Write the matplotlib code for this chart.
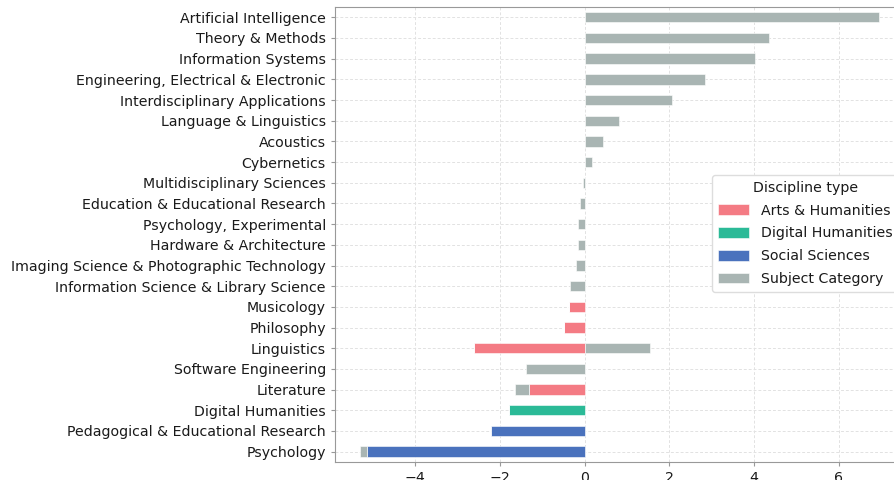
import matplotlib
matplotlib.use("Agg")
import matplotlib.pyplot as plt
import pandas as pd

# categories top to bottom, as in the chart
categories = [
    "Artificial Intelligence", "Theory & Methods", "Information Systems",
    "Engineering, Electrical & Electronic", "Interdisciplinary Applications",
    "Language & Linguistics", "Acoustics", "Cybernetics",
    "Multidisciplinary Sciences", "Education & Educational Research",
    "Psychology, Experimental", "Hardware & Architecture",
    "Imaging Science & Photographic Technology",
    "Information Science & Library Science", "Musicology", "Philosophy",
    "Linguistics", "Software Engineering", "Literature", "Digital Humanities",
    "Pedagogical & Educational Research", "Psychology",
]

arts = [0, 0, 0, 0, 0, 0, 0, 0, 0, 0, 0, 0, 0, 0,
        -0.37, -0.48, -2.61, 0, -1.32, 0, 0, 0]
digital = [0, 0, 0, 0, 0, 0, 0, 0, 0, 0, 0, 0, 0, 0,
           0, 0, 0, 0, 0, -1.80, 0, 0]
social = [0, 0, 0, 0, 0, 0, 0, 0, 0, 0, 0, 0, 0, 0,
          0, 0, 0, 0, 0, 0, -2.21, -5.15]
subject = [6.95, 4.34, 4.02, 2.83, 2.06, 0.80, 0.43, 0.18, -0.05, -0.11,
           -0.15, -0.17, -0.21, -0.35, 0, 0, 1.54, -1.40, -0.34, 0, 0, -0.17]

colors = ["#F47B84", "#2BBA97", "#4A72BD", "#A9B5B3"]

df = pd.DataFrame({
    "Arts & Humanities": arts,
    "Digital Humanities": digital,
    "Social Sciences": social,
    "Subject Category": subject,
}, index=categories).iloc[::-1]

plt.rcParams["font.size"] = 10.2
plt.rcParams["text.color"] = "#1a1a1a"
plt.rcParams["xtick.labelcolor"] = "#1a1a1a"
plt.rcParams["ytick.labelcolor"] = "#1a1a1a"

fig = plt.figure(figsize=(8.94, 4.8), dpi=100)
ax = fig.add_axes([0.3747, 0.0375, 0.637, 0.948])

df.plot.barh(stacked=True, ax=ax, color=colors, width=0.5,
             edgecolor="white", linewidth=0.4, zorder=3)

ax.set_xlim(-5.9, 7.55)
ax.set_ylabel("")
ax.grid(True, linestyle=(0, (3, 2)), color="#e2e2e2", linewidth=0.7, zorder=0)
ax.set_axisbelow(True)
for s in ax.spines.values():
    s.set_color("#999999")
ax.tick_params(axis="y", length=3, color="#999999")
ax.tick_params(axis="x", length=3, color="#999999")

ax.legend(title="Discipline type", loc="upper left",
          bbox_to_anchor=(0.789, 0.650), bbox_transform=fig.transFigure,
          fontsize=10.2, title_fontsize=10.2, framealpha=1,
          edgecolor="#dddddd", handlelength=2.2, handleheight=0.8,
          labelspacing=0.62)

fig.savefig("out.png", dpi=100)
